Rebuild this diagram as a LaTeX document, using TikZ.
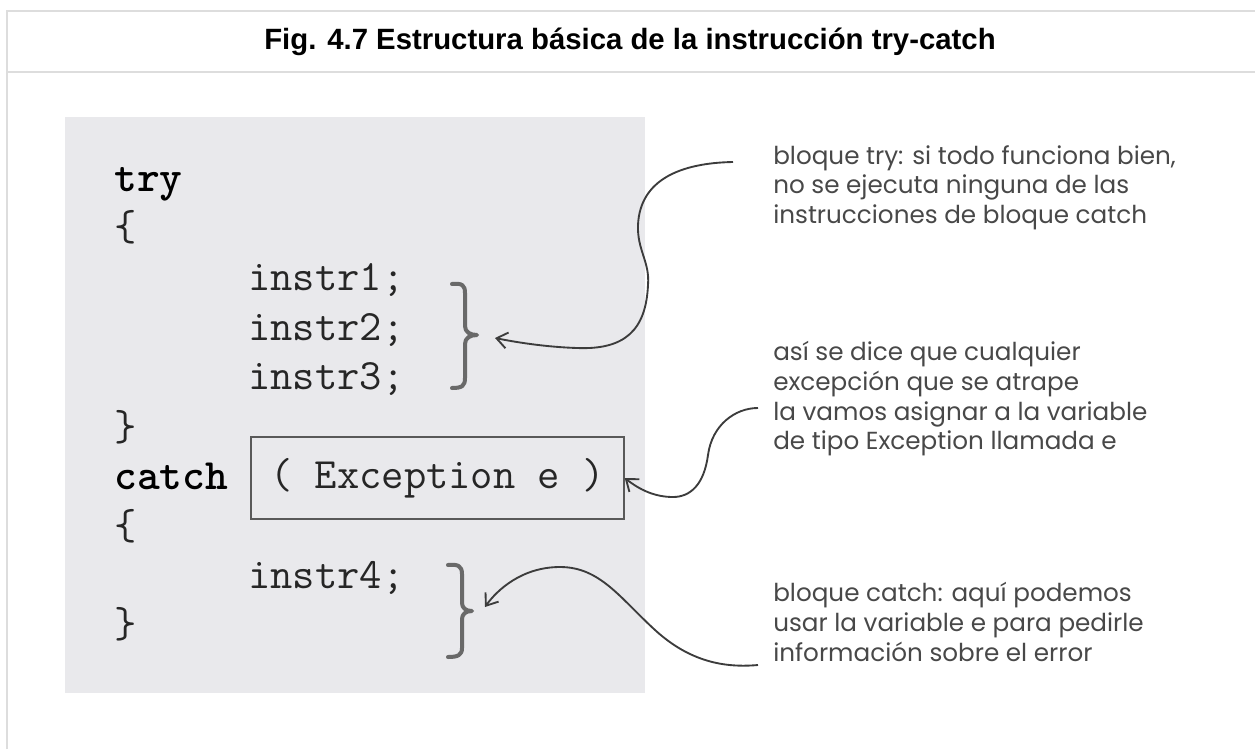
\documentclass[tikz,border=0pt]{standalone}
\usepackage{fontspec}
\setmainfont{Liberation Sans}
\newfontfamily\notefont{Poppins}
\usepackage{tikz}
\usetikzlibrary{positioning,arrows.meta,calc}
\definecolor{panel}{RGB}{233,233,236}
\definecolor{rulegray}{RGB}{221,221,221}
\definecolor{inkgray}{RGB}{60,60,60}
\definecolor{notegray}{RGB}{72,72,72}
\definecolor{bracegray}{RGB}{105,105,105}

\begin{document}
\begin{tikzpicture}[x=0.75pt, y=-0.75pt,
  code/.style={font=\fontsize{32.5}{32.5}\selectfont\ttfamily, text=black!85, inner sep=0pt, anchor=base west},
  kw/.style={code, font=\fontsize{32.5}{32.5}\selectfont\ttfamily\bfseries, text=black},
  exc/.style={draw=black!65, line width=1.1pt, minimum width=279.75pt, minimum height=61.5pt, inner sep=0pt,
    font=\fontsize{32.5}{32.5}\selectfont\ttfamily, text=black!85},
  note/.style={font=\fontsize{18.5}{22.3}\selectfont\notefont, text=notegray, align=left, inner sep=0pt, anchor=north west},
  brc/.style={bracegray, line width=3pt, line cap=round, line join=round},
  arr/.style={-{Straight Barb[length=8pt, width=12pt]}, inkgray, line width=1.4pt},
  frame/.style={rulegray, line width=1.5pt}]
\useasboundingbox (0,0) rectangle (1255,749);
% frame and title
\draw[frame] (7,749) -- (7,11) -- (1255,11);
\draw[frame] (7,72) -- (1255,72);
\node[font=\fontsize{22}{26}\selectfont\bfseries] (title) at (630,42)
  {Fig. 4.7 Estructura básica de la instrucción try-catch};
% code panel
\fill[panel] (65,117) rectangle (645,693);
\node[kw] (try) at (114,191) {try};
\node[code] (ob1) at (114,240) {\{};
\foreach \i/\y in {1/290,2/340,3/389}
  \node[code] (in\i) at (248,\y) {instr\i;};
\node[code] (cb1) at (114,440) {\}};
\node[kw] (catch) at (114,489) {catch};
\node[exc] (exc) at (437.5,478) {( Exception e )};
\node[code] (ob2) at (114,539) {\{};
\node[code] (in4) at (248,588) {instr4;};
\node[code] (cb2) at (114,637) {\}};
% braces
\draw[brc] (452,284) .. controls (462,283) and (465,285) .. (465,293) -- (465,326)
  .. controls (465,332) and (470,335) .. (477,335) .. controls (470,335) and (465,338) .. (465,344)
  -- (465,378) .. controls (465,386) and (462,388) .. (452,388);
\draw[brc] (448,565) .. controls (458,564) and (462,566) .. (462,574) -- (462,603)
  .. controls (462,608) and (466,611) .. (472,611) .. controls (466,611) and (462,614) .. (462,619)
  -- (462,648) .. controls (462,655) and (458,657) .. (448,657);
\coordinate (t1) at (495,338);
\coordinate (t3) at (485,607);
% notes
\node[note] (n1) at (773,145) {bloque try: si todo funciona bien,\\no se ejecuta ninguna de las\\instrucciones de bloque catch};
\node[note] (n2) at (773,341) {así se dice que cualquier\\excepción que se atrape\\la vamos asignar a la variable\\de tipo Exception llamada e};
\node[note] (n3) at (773,582) {bloque catch: aquí podemos\\usar la variable e para pedirle\\información sobre el error};
\coordinate (c1) at (733,162);
\coordinate (c2) at (758,408);
\coordinate (c3) at (758,665);
% arrows
\draw[arr] (c1) .. controls (680,163) and (640,180) .. (638,225)
  .. controls (637,250) and (650,262) .. (648,285)
  .. controls (646,330) and (625,350) .. (577,348)
  .. controls (545,347) and (515,342) .. (t1);
\draw[arr] (c2) .. controls (735,408) and (712,425) .. (708,455)
  .. controls (704,485) and (690,497) .. (673,497)
  .. controls (655,497) and (640,490) .. (exc.east);
\draw[arr] (c3) .. controls (725,668) and (690,662) .. (655,630)
  .. controls (620,598) and (600,567) .. (560,567)
  .. controls (522,567) and (497,590) .. (t3);
\end{tikzpicture}
\end{document}
